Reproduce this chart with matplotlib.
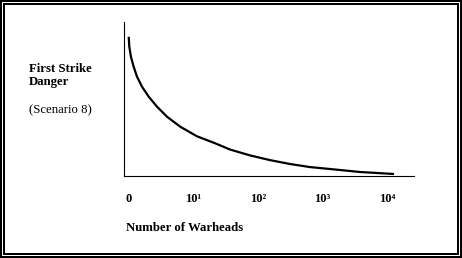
import matplotlib
matplotlib.use("Agg")
import matplotlib.pyplot as plt
from matplotlib.patches import Rectangle

plt.rcParams["font.family"] = ["Liberation Serif", "DejaVu Serif"]

# curve (warheads on a log scale, danger in 0..1)
warheads = [0.99, 1.01, 1.07, 1.18, 1.33, 1.59, 2.02, 2.72, 3.88, 6.24, 11.3,
            21.8, 36.8, 75, 154, 313, 640, 1870, 3810, 12900]
danger = [0.904, 0.840, 0.775, 0.710, 0.645, 0.580, 0.515, 0.450, 0.385,
          0.320, 0.258, 0.212, 0.172, 0.134, 0.103, 0.078, 0.058, 0.039,
          0.026, 0.013]

tick_values = [1, 10, 100, 1000, 10000]
tick_labels = ["0", "10¹", "10²", "10³", "10⁴"]

W, H = 462, 258


def main() -> None:
    fig = plt.figure(figsize=(W / 100, H / 100), dpi=100)

    # double frame round the picture
    def px_rect(inset, color, z):
        fig.add_artist(Rectangle((inset / W, inset / H), 1 - 2 * inset / W,
                                 1 - 2 * inset / H, transform=fig.transFigure,
                                 facecolor=color, edgecolor="none", zorder=z))

    px_rect(0, "black", -5)
    px_rect(1.8, "white", -4)
    px_rect(3.0, "black", -3)
    px_rect(5.2, "white", -2)

    ax = fig.add_axes([124 / W, (H - 176) / H, (414 - 124) / W, (176 - 22) / H])
    ax.set_facecolor("none")
    ax.plot(warheads, danger, color="black", lw=1.6, solid_capstyle="butt",
            solid_joinstyle="round")

    ax.set_xscale("log")
    ax.set_xlim(0.836, 26300)
    ax.set_ylim(0, 1)
    ax.minorticks_off()
    ax.set_xticks(tick_values)
    ax.set_xticklabels(tick_labels, fontsize=9, fontweight="bold")
    ax.set_yticks([])
    ax.tick_params(axis="x", length=0, pad=12)
    for s in ("top", "right"):
        ax.spines[s].set_visible(False)
    for s in ("left", "bottom"):
        ax.spines[s].set_linewidth(0.8)

    fs = 9.2
    fig.text(29 / W, 1 - 69 / H, "First Strike", fontsize=fs, fontweight="bold",
             va="center", ha="left")
    fig.text(29 / W, 1 - 82 / H, "Danger", fontsize=fs, fontweight="bold",
             va="center", ha="left")
    fig.text(29 / W, 1 - 110 / H, "(Scenario 8)", fontsize=fs,
             va="center", ha="left")
    fig.text(126 / W, 1 - 228 / H, "Number of Warheads", fontsize=fs,
             fontweight="bold", va="center", ha="left")

    fig.savefig("out.png", dpi=100)


if __name__ == "__main__":
    main()
